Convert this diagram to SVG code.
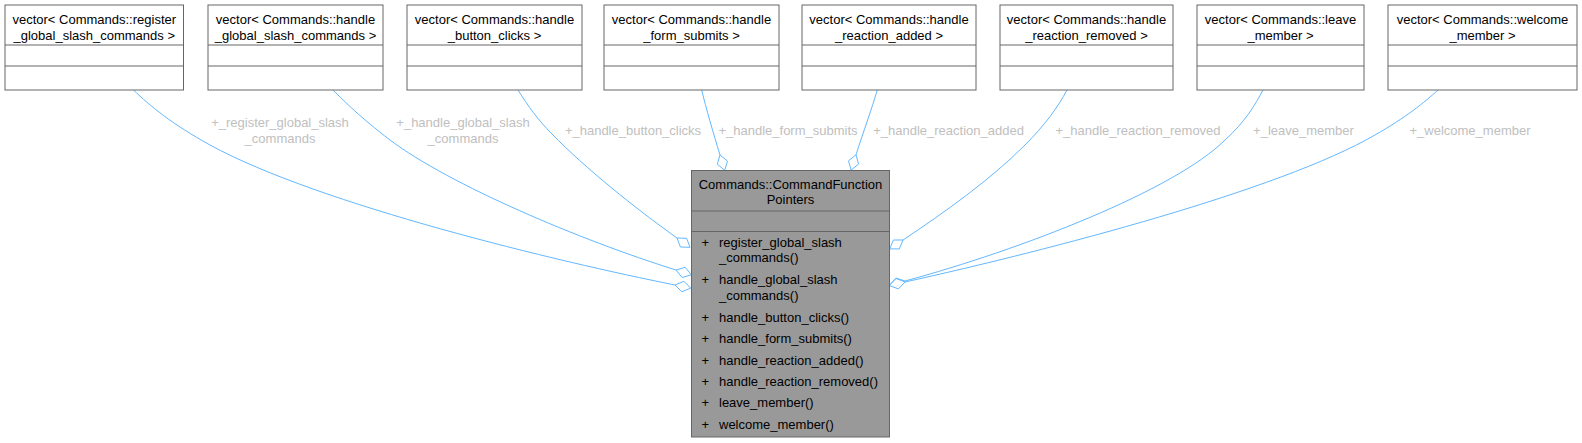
<svg xmlns="http://www.w3.org/2000/svg" width="1582" height="443" viewBox="0 0 1582 443">
<style>
.box{fill:#ffffff;stroke:#666666;stroke-width:1}
.cbox{fill:#999999;stroke:#666666;stroke-width:1}
.sep{stroke:#666666;stroke-width:1;fill:none}
.t{font-family:"Liberation Sans",Arial,sans-serif;font-size:13px;fill:#000000}
.m{text-anchor:middle}
.lbl{font-family:"Liberation Sans",Arial,sans-serif;font-size:13px;fill:#c0c0c0;text-anchor:middle}
.e{fill:none;stroke:#63b8ff;stroke-width:1}
.d{fill:#ffffff;stroke:#63b8ff;stroke-width:1}
</style>
<rect width="1582" height="443" fill="#ffffff"/>
<g id="connectors">
<path class="e" d="M133.5,90 C150,106 172,124 210,145 C320,205 560,262 675,285"/>
<polygon class="d" points="675,285 681.8,291.8 690.7,288.1 683.9,281.3"/>
<path class="e" d="M333,90 C345,102 360,117 390,140 C450,185 580,240 676,270"/>
<polygon class="d" points="676,270 682.1,277.5 691.3,274.8 685.2,267.3"/>
<path class="e" d="M518,90 C528,106 538,120 552,134 C585,168 635,208 677,238"/>
<polygon class="d" points="677,238 680.4,247 690,247.3 686.6,238.3"/>
<path class="e" d="M701.7,90 C706,108 713,132 720,155"/>
<polygon class="d" points="720,155 717.3,164.2 724.7,170.3 727.5,161.1"/>
<path class="e" d="M877.3,90 C872,108 864,130 856,154.8"/>
<polygon class="d" points="856,154.8 848.5,160.8 851.1,170 858.6,164"/>
<path class="e" d="M1067,90 C1058,107 1045,125 1025,145 C990,180 945,212 903,240"/>
<polygon class="d" points="903,240 893.4,240 889.7,248.9 899.3,248.9"/>
<path class="e" d="M1263,90 C1255,105 1245,122 1225,140 C1175,190 1020,250 905,281"/>
<polygon class="d" points="905,281 895.9,278 889.5,285.2 898.7,288.3"/>
<path class="e" d="M1438,90 C1425,102 1405,118 1375,135 C1280,190 1050,250 905,282"/>
<polygon class="d" points="905,282 896,278.5 889.4,285.5 898.4,288.9"/>
<text class="lbl" x="280" y="126.7">+_register_global_slash</text>
<text class="lbl" x="280" y="142.5">_commands</text>
<text class="lbl" x="463" y="126.7">+_handle_global_slash</text>
<text class="lbl" x="463" y="142.5">_commands</text>
<text class="lbl" x="633" y="135">+_handle_button_clicks</text>
<text class="lbl" x="788" y="135">+_handle_form_submits</text>
<text class="lbl" x="948.5" y="135">+_handle_reaction_added</text>
<text class="lbl" x="1138" y="135">+_handle_reaction_removed</text>
<text class="lbl" x="1303.5" y="135">+_leave_member</text>
<text class="lbl" x="1470" y="135">+_welcome_member</text>
</g>
<g id="node1">
<rect class="box" x="5" y="5" width="178.5" height="85"/>
<path class="sep" d="M5,45H183.5M5,66H183.5"/>
<text class="t m" x="94.25" y="24">vector&lt; Commands::register</text>
<text class="t m" x="94.25" y="39.5">_global_slash_commands &gt;</text>
</g>
<g id="node2">
<rect class="box" x="208" y="5" width="175" height="85"/>
<path class="sep" d="M208,45H383M208,66H383"/>
<text class="t m" x="295.5" y="24">vector&lt; Commands::handle</text>
<text class="t m" x="295.5" y="39.5">_global_slash_commands &gt;</text>
</g>
<g id="node3">
<rect class="box" x="407" y="5" width="175" height="85"/>
<path class="sep" d="M407,45H582M407,66H582"/>
<text class="t m" x="494.5" y="24">vector&lt; Commands::handle</text>
<text class="t m" x="494.5" y="39.5">_button_clicks &gt;</text>
</g>
<g id="node4">
<rect class="box" x="604" y="5" width="175" height="85"/>
<path class="sep" d="M604,45H779M604,66H779"/>
<text class="t m" x="691.5" y="24">vector&lt; Commands::handle</text>
<text class="t m" x="691.5" y="39.5">_form_submits &gt;</text>
</g>
<g id="node5">
<rect class="box" x="802" y="5" width="174" height="85"/>
<path class="sep" d="M802,45H976M802,66H976"/>
<text class="t m" x="889" y="24">vector&lt; Commands::handle</text>
<text class="t m" x="889" y="39.5">_reaction_added &gt;</text>
</g>
<g id="node6">
<rect class="box" x="1000" y="5" width="173" height="85"/>
<path class="sep" d="M1000,45H1173M1000,66H1173"/>
<text class="t m" x="1086.5" y="24">vector&lt; Commands::handle</text>
<text class="t m" x="1086.5" y="39.5">_reaction_removed &gt;</text>
</g>
<g id="node7">
<rect class="box" x="1197" y="5" width="167" height="85"/>
<path class="sep" d="M1197,45H1364M1197,66H1364"/>
<text class="t m" x="1280.5" y="24">vector&lt; Commands::leave</text>
<text class="t m" x="1280.5" y="39.5">_member &gt;</text>
</g>
<g id="node8">
<rect class="box" x="1388" y="5" width="189" height="85"/>
<path class="sep" d="M1388,45H1577M1388,66H1577"/>
<text class="t m" x="1482.5" y="24">vector&lt; Commands::welcome</text>
<text class="t m" x="1482.5" y="39.5">_member &gt;</text>
</g>
<g id="node0">
<rect class="cbox" x="691.5" y="170.5" width="198" height="266.5"/>
<path class="sep" d="M691.5,211H889.5M691.5,231.5H889.5"/>
<text class="t m" x="790.5" y="188.5">Commands::CommandFunction</text>
<text class="t m" x="790.5" y="204">Pointers</text>
<text class="t" x="701.5" y="247">+</text><text class="t" x="719" y="247">register_global_slash</text>
<text class="t" x="719" y="262">_commands()</text>
<text class="t" x="701.5" y="284">+</text><text class="t" x="719" y="284">handle_global_slash</text>
<text class="t" x="719" y="299.5">_commands()</text>
<text class="t" x="701.5" y="321.5">+</text><text class="t" x="719" y="321.5">handle_button_clicks()</text>
<text class="t" x="701.5" y="343">+</text><text class="t" x="719" y="343">handle_form_submits()</text>
<text class="t" x="701.5" y="364.5">+</text><text class="t" x="719" y="364.5">handle_reaction_added()</text>
<text class="t" x="701.5" y="386">+</text><text class="t" x="719" y="386">handle_reaction_removed()</text>
<text class="t" x="701.5" y="407">+</text><text class="t" x="719" y="407">leave_member()</text>
<text class="t" x="701.5" y="428.5">+</text><text class="t" x="719" y="428.5">welcome_member()</text>
</g>
</svg>
